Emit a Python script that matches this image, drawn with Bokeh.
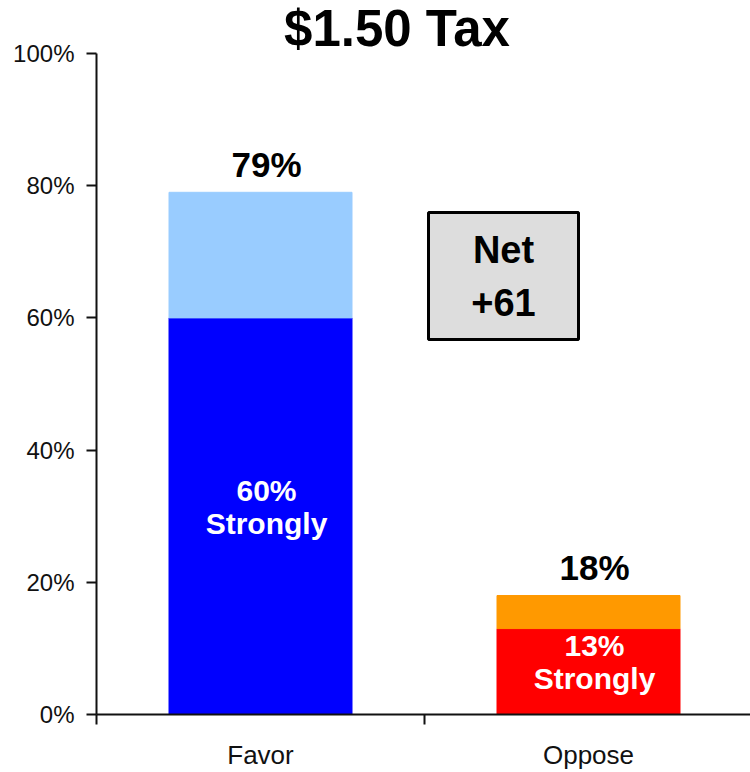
from bokeh.plotting import figure
from bokeh.models import Range1d, FixedTicker, PrintfTickFormatter, ColumnDataSource
from bokeh.core.properties import value
from bokeh.embed import file_html
from bokeh.resources import INLINE

# ---- data ----
categories = ["Favor", "Oppose"]
total = [79, 18]
strongly = [60, 13]
strong_colors = ["#0000FF", "#FF0000"]
light_colors = ["#99CCFF", "#FF9900"]
y_ticks = [0, 20, 40, 60, 80, 100]
title_text = "$1.50 Tax"
net_lines = ["Net", "+61"]

somewhat = [t - s for t, s in zip(total, strongly)]
xs = [i + 0.5 for i in range(len(categories))]

src = ColumnDataSource(dict(
    x=xs, strongly=strongly, total=total, somewhat=somewhat,
    sc=strong_colors, lc=light_colors,
    mid=[s / 2 for s in strongly],
    tlab=[f"{t}%" for t in total],
    slab=[f"{s}%" for s in strongly],
    strong_word=["Strongly"] * len(categories),
))

FONT = "Liberation Sans"

# ---- layout (pixels) ----
W, H = 750, 772
LEFT, BOTTOM = 96, 58
FRAME_W = W - LEFT
FRAME_H = H - BOTTOM
TOP_PAD = 53            # frame top to 100%
PX_PER_CAT = 328
y_end = FRAME_H / (FRAME_H - TOP_PAD) * 100
px_per_pct = (FRAME_H - TOP_PAD) / 100.0


def dy(frame_px):
    """frame pixel from top -> data y"""
    return (FRAME_H - frame_px) / px_per_pct


def dx(frame_px):
    return frame_px / PX_PER_CAT


p = figure(width=W, height=H, output_backend="svg", toolbar_location=None,
           x_range=Range1d(0, FRAME_W / PX_PER_CAT), y_range=Range1d(0, y_end),
           min_border_left=LEFT, min_border_right=0, min_border_top=0, min_border_bottom=BOTTOM)
p.outline_line_color = None
p.xgrid.visible = False
p.ygrid.visible = False
p.background_fill_color = "white"

bw = 183 / 328
p.vbar(x="x", bottom=0, top="strongly", width=bw, color="sc", source=src)
p.vbar(x="x", bottom="strongly", top="total", width=bw, color="lc", source=src)

# labels on top of bars
p.text(x="x", y="total", text="tlab", source=src, text_align="center",
       text_baseline="middle", y_offset=-28, x_offset=6,
       text_font=value(FONT), text_font_style="bold", text_font_size="35px", text_color="black")
# inner labels
p.text(x="x", y="mid", text="slab", source=src, text_align="center",
       text_baseline="middle", y_offset=-26, x_offset=6,
       text_font=value(FONT), text_font_style="bold", text_font_size="30px", text_color="white")
p.text(x="x", y="mid", text="strong_word", source=src, text_align="center",
       text_baseline="middle", y_offset=7, x_offset=6,
       text_font=value(FONT), text_font_style="bold", text_font_size="30px", text_color="white")

# Net box annotation (frame pixels)
box_l, box_r, box_t, box_b = dx(332), dx(482), dy(212), dy(339)
p.quad(left=[box_l], right=[box_r], bottom=[box_b], top=[box_t],
       fill_color="#DDDDDD", line_color="black", line_width=3)
bx = (box_l + box_r) / 2
by = (box_b + box_t) / 2
p.text(x=[bx], y=[by], text=[net_lines[0]], text_align="center", text_baseline="middle",
       y_offset=-26, text_font=value(FONT), text_font_style="bold", text_font_size="38px",
       text_color="black")
p.text(x=[bx], y=[by], text=[net_lines[1]], text_align="center", text_baseline="middle",
       y_offset=26, text_font=value(FONT), text_font_style="bold", text_font_size="38px",
       text_color="black")

# title
p.text(x=[dx(300.5)], y=[dy(28)], text=[title_text], text_align="center", text_baseline="middle",
       text_font=value(FONT), text_font_style="bold", text_font_size="51px", text_color="black")

# y axis
ya = p.yaxis[0]
ya.ticker = FixedTicker(ticks=y_ticks)
ya.formatter = PrintfTickFormatter(format="%d%%")
ya.bounds = (0, 100)
ya.axis_line_color = "#111111"
ya.axis_line_width = 2
ya.major_tick_line_color = "#111111"
ya.major_tick_line_width = 2
ya.major_tick_in = 0
ya.major_tick_out = 10
ya.minor_tick_out = 0
ya.minor_tick_in = 0
ya.major_label_standoff = 12
ya.major_label_text_font = FONT
ya.major_label_text_font_size = "24px"
ya.major_label_text_color = "#111111"

# x axis
xa = p.xaxis[0]
xa.ticker = FixedTicker(ticks=xs, minor_ticks=[0, 1, 2])
xa.major_label_overrides = {x: c for x, c in zip(xs, categories)}
xa.axis_line_color = "#111111"
xa.axis_line_width = 2
xa.major_tick_in = 0
xa.major_tick_out = 0
xa.minor_tick_in = 0
xa.minor_tick_out = 10
xa.minor_tick_line_color = "#111111"
xa.minor_tick_line_width = 2
xa.major_label_standoff = 15
xa.major_label_text_font = FONT
xa.major_label_text_font_size = "26px"
xa.major_label_text_color = "#111111"

open("out.html", "w").write(file_html(p, INLINE))
